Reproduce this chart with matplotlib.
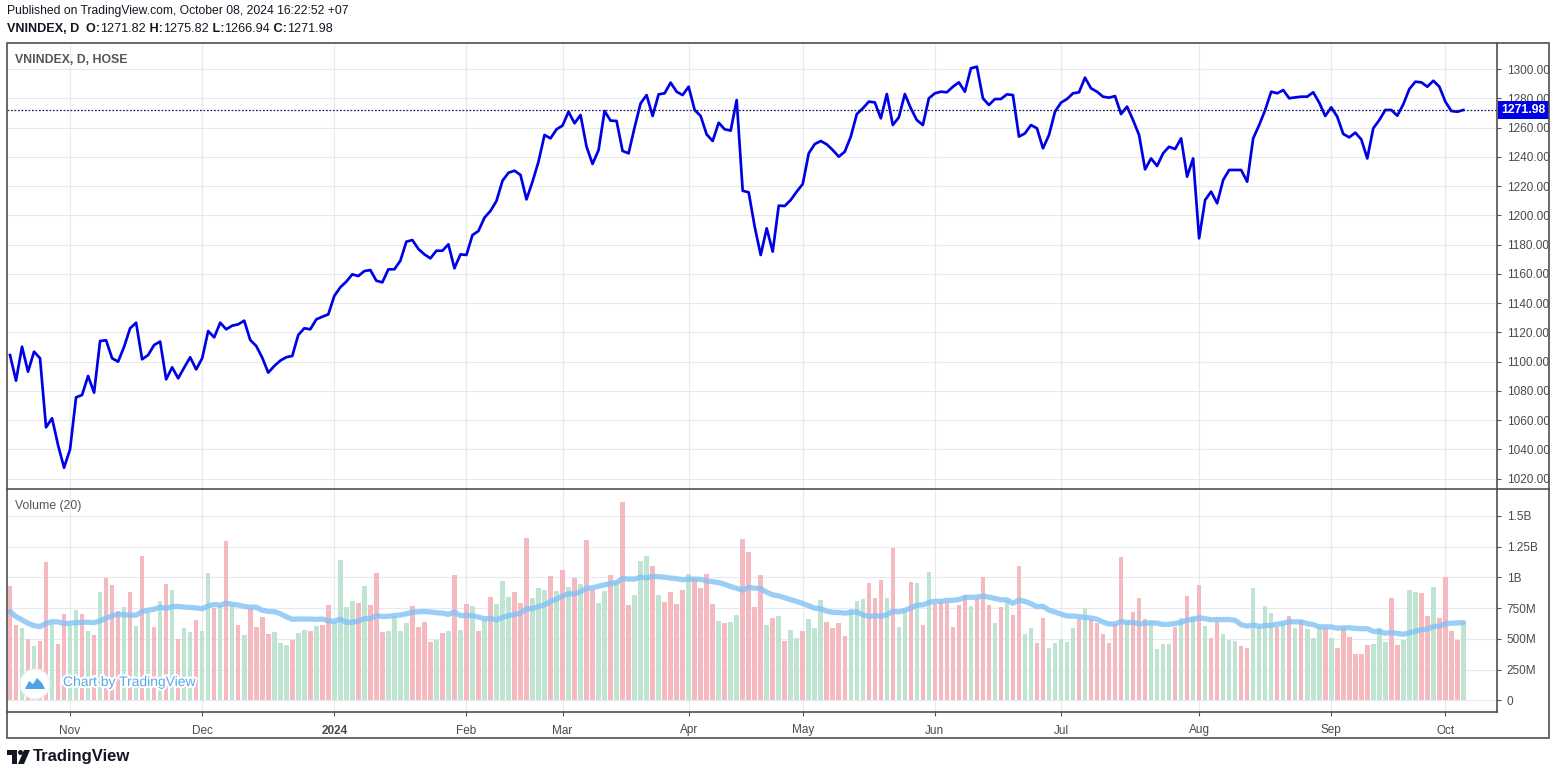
import numpy as np
import pandas as pd
import matplotlib
matplotlib.use("Agg")
import matplotlib.pyplot as plt
from matplotlib.patches import Rectangle, Circle, Polygon
from matplotlib.lines import Line2D
import matplotlib.transforms as mtrans
import matplotlib.patheffects as pe

plt.rcParams['font.family'] = ['Liberation Sans', 'DejaVu Sans']

# ---------------- data ----------------
close = [
    1104.5, 1087.0, 1110.2, 1093.1, 1106.8, 1102.3, 1055.1, 1061.3, 1043.0, 1027.5,
    1040.1, 1075.6, 1077.2, 1090.2, 1078.8, 1114.1, 1114.6, 1102.3, 1100.0, 1110.2,
    1122.8, 1126.6, 1101.6, 1104.5, 1111.4, 1113.7, 1087.9, 1096.1, 1088.6, 1095.9,
    1103.0, 1094.7, 1102.3, 1120.9, 1116.6, 1126.6, 1122.1, 1124.6, 1125.5, 1128.0,
    1114.8, 1110.7, 1102.7, 1092.5, 1097.0, 1100.7, 1103.0, 1103.9, 1118.2, 1122.8,
    1122.1, 1128.9, 1130.7, 1132.3, 1144.9, 1150.8, 1154.7, 1159.7, 1158.5, 1161.9,
    1162.6, 1155.3, 1154.2, 1163.1, 1163.1, 1169.0, 1182.0, 1183.1, 1177.0, 1173.3,
    1170.6, 1175.8, 1175.8, 1180.2, 1163.8, 1173.3, 1172.9, 1186.5, 1189.3, 1198.4,
    1203.0, 1209.8, 1223.6, 1229.1, 1230.5, 1227.6, 1210.9, 1223.0, 1236.7, 1254.9,
    1252.6, 1258.8, 1261.3, 1270.8, 1262.9, 1268.6, 1246.9, 1235.1, 1244.6, 1271.3,
    1264.7, 1264.5, 1244.0, 1242.4, 1260.1, 1276.5, 1282.2, 1267.9, 1282.7, 1283.4,
    1290.7, 1284.5, 1282.2, 1287.9, 1272.0, 1267.9, 1255.3, 1250.8, 1263.3, 1258.8,
    1257.9, 1278.8, 1216.8, 1215.7, 1192.2, 1172.9, 1191.1, 1175.2, 1206.6, 1206.4,
    1210.5, 1216.2, 1221.4, 1242.4, 1248.7, 1250.8, 1248.5, 1244.6, 1240.1, 1243.5,
    1253.8, 1269.2, 1273.1, 1277.7, 1277.2, 1266.3, 1282.9, 1261.7, 1267.0, 1282.9,
    1273.1, 1265.1, 1261.7, 1280.0, 1283.4, 1284.5, 1284.1, 1287.9, 1290.9, 1284.5,
    1300.5, 1301.6, 1280.0, 1275.4, 1279.5, 1279.5, 1282.7, 1282.2, 1253.8, 1256.0,
    1261.7, 1259.5, 1245.8, 1254.9, 1270.8, 1277.0, 1279.5, 1283.4, 1284.1, 1294.1,
    1286.8, 1284.5, 1281.1, 1280.4, 1281.5, 1269.2, 1274.3, 1265.1, 1254.9, 1231.4,
    1238.9, 1233.7, 1242.4, 1246.9, 1245.3, 1252.6, 1226.4, 1238.9, 1184.3, 1210.5,
    1216.2, 1208.2, 1224.1, 1231.0, 1231.0, 1231.0, 1223.0, 1252.6, 1261.7, 1272.0,
    1284.5, 1283.4, 1285.6, 1280.0, 1280.6, 1281.1, 1281.1, 1284.1, 1277.0, 1267.9,
    1273.8, 1267.4, 1255.6, 1253.3, 1256.5, 1251.9, 1238.9, 1259.5, 1265.1, 1272.0,
    1272.0, 1268.1, 1275.9, 1286.3, 1291.3, 1290.9, 1287.9, 1292.0, 1287.9, 1277.7,
    1271.3, 1270.8, 1271.98,
]

volume_m = [
    934, 613, 589, 502, 442, 483, 1126, 620, 459, 703, 608, 735, 703, 565, 532, 882, 996, 939, 727, 757,
    882, 605, 1175, 722, 597, 809, 947, 898, 502, 586, 559, 654, 565, 1037, 752, 776, 1297, 776, 613, 532,
    754, 597, 678, 540, 559, 467, 450, 491, 548, 573, 565, 605, 613, 776, 640, 1143, 760, 809, 792, 934,
    776, 1037, 559, 565, 687, 565, 630, 768, 597, 638, 475, 491, 548, 565, 1020, 573, 784, 768, 565, 654,
    841, 784, 972, 841, 882, 792, 1322, 833, 915, 898, 1012, 890, 1061, 923, 996, 947, 1305, 898, 792, 890,
    1020, 972, 1615, 776, 858, 1134, 1175, 1094, 858, 801, 882, 784, 898, 1029, 988, 915, 1029, 784, 646, 630,
    638, 695, 1314, 1208, 760, 1020, 613, 670, 687, 483, 573, 508, 565, 662, 589, 817, 638, 589, 630, 524,
    744, 809, 825, 955, 833, 980, 833, 1240, 597, 735, 963, 955, 613, 1045, 784, 809, 792, 597, 776, 858,
    768, 825, 1004, 776, 630, 760, 809, 695, 1094, 540, 589, 467, 670, 426, 467, 499, 475, 589, 662, 752,
    662, 630, 540, 467, 622, 1167, 646, 719, 833, 662, 646, 418, 459, 459, 597, 670, 849, 687, 939, 605,
    508, 638, 540, 491, 483, 442, 426, 915, 597, 768, 711, 597, 630, 687, 589, 654, 581, 508, 589, 589,
    508, 426, 597, 516, 377, 377, 450, 459, 589, 475, 833, 450, 491, 898, 882, 874, 687, 923, 670, 1004,
    565, 491, 638,
]

vol_dir = (
    "rrgrgrrgrrggrgrgrrrg"
    "rgrgrgrgrggrggrgrgrg"
    "rrrrgggrggrgrrggggrg"
    "rrrggggrrrrgrgrgrgrg"
    "rgggrrrgggrgrgrgrrgg"
    "rgrrgggrgrrrrgrrrrgr"
    "ggrrrrgrgrggrgggrrrr"
    "gggrrrgrggrgrgrrrrrr"
    "grrrgrgrrggrrgggggrg"
    "rrrrrrgrrrggggrgrgrg"
    "rrgggrrggggrgrgrgggr"
    "grrrrrrgggrrgggrrgrrrrg"
)

# 20-period volume MA: first 19 values (history before the window)
vol_ma_head = [722, 681, 654, 627, 608, 600, 627, 640, 638, 624,
               627, 632, 635, 635, 632, 646, 668, 687, 700]

month_labels = ["Nov", "Dec", "2024", "Feb", "Mar", "Apr", "May", "Jun", "Jul", "Aug", "Sep", "Oct"]
month_idx = [10, 32, 54, 76, 92, 113, 132, 154, 175, 198, 220, 239]

price_ticks = list(range(1020, 1301, 20))
vol_ticks = [0, 250, 500, 750, 1000, 1250, 1500]
vol_tick_labels = ["0", "250M", "500M", "750M", "1B", "1.25B", "1.5B"]

last_close = 1271.98
header_top = "Published on TradingView.com, October 08, 2024 16:22:52 +07"
header_parts = [("VNINDEX, D", "bold"), ("  O:", "bold"), ("1271.82", "normal"),
                (" H:", "bold"), ("1275.82", "normal"), (" L:", "bold"),
                ("1266.94", "normal"), (" C:", "bold"), ("1271.98", "normal")]

# ---------------- figure ----------------
W, H = 1554, 775
fig = plt.figure(figsize=(W / 100, H / 100), dpi=100)
fig.patch.set_facecolor("white")


def fx(x):
    return x / W


def fy(y):
    return 1 - y / H


GRID = "#E6E9EF"
TXT = "#4a4a4a"
x = np.arange(len(close))
xlim = (-0.5, 247.6)

# price pane
ax_p = fig.add_axes([fx(7), fy(489), 1490 / W, 445 / H])
ax_p.plot(x, close, color="#0000E6", lw=1.95, solid_joinstyle="round", zorder=3)
ax_p.set_xlim(*xlim)
ax_p.set_ylim(1012.95, 1317.1)
ax_p.set_yticks(price_ticks)
ax_p.set_yticklabels([f"{v:.2f}" for v in price_ticks])
ax_p.yaxis.tick_right()
ax_p.set_xticks(month_idx)
ax_p.tick_params(axis="x", length=0, labelbottom=False)
ax_p.tick_params(axis="y", length=3, width=0.8, color="#555555", pad=4,
                 labelsize=8.5, labelcolor=TXT)
ax_p.grid(True, color=GRID, lw=0.8, zorder=0)
ax_p.set_axisbelow(True)
for s in ax_p.spines.values():
    s.set_visible(False)
ax_p.axhline(last_close, color="#1b1b5e", lw=0.9, ls=(0, (1.4, 1.4)), zorder=4)
tr = mtrans.blended_transform_factory(ax_p.transAxes, ax_p.transData)
ax_p.text(1.0 + 4 / 1490, last_close, "1271.98", transform=tr, ha="left", va="center",
          color="white", fontweight="bold", fontsize=8.8, clip_on=False, zorder=10,
          bbox=dict(boxstyle="square,pad=0.28", fc="#0000E6", ec="none"))
ax_p.text(8 / 1490, 1 - (60 - 44) / 445, "VNINDEX, D, HOSE", transform=ax_p.transAxes,
          ha="left", va="center", fontsize=8.8, fontweight="bold", color="#555555")

# volume pane
ax_v = fig.add_axes([fx(7), fy(712), 1490 / W, 223 / H])
colors = ["#BFE4D2" if c == "g" else "#F5BAC0" for c in vol_dir]
ax_v.bar(x, volume_m, width=0.76, color=colors, linewidth=0, zorder=2)
vol_series = pd.Series(volume_m, dtype=float)
ma = vol_series.rolling(20).mean().to_numpy()
ma[:19] = vol_ma_head
ax_v.plot(x, ma, color="#7FC1F6", lw=3.8, alpha=0.78, solid_capstyle="round", zorder=3)
ax_v.set_xlim(*xlim)
ax_v.set_ylim(-95, 1719)
ax_v.set_yticks(vol_ticks)
ax_v.set_yticklabels(vol_tick_labels)
ax_v.yaxis.tick_right()
ax_v.set_xticks(month_idx)
ax_v.set_xticklabels(month_labels)
for lbl in ax_v.get_xticklabels():
    if lbl.get_text() == "2024":
        lbl.set_fontweight("bold")
ax_v.tick_params(axis="x", length=3, width=0.8, color="#555555", pad=6,
                 labelsize=8.5, labelcolor=TXT)
ax_v.tick_params(axis="y", length=3, width=0.8, color="#555555", pad=4,
                 labelsize=8.5, labelcolor=TXT)
ax_v.grid(True, color=GRID, lw=0.8, zorder=0)
ax_v.set_axisbelow(True)
for s in ax_v.spines.values():
    s.set_visible(False)
ax_v.text(8 / 1490, 1 - (506 - 489) / 223, "Volume (20)", transform=ax_v.transAxes,
          ha="left", va="center", fontsize=8.8, color="#555555")

# frame lines
FR = "#4f4f4f"
fig.add_artist(Rectangle((fx(7), fy(738)), (1549 - 7) / W, (738 - 43) / H, fill=False,
                         ec=FR, lw=1.2, transform=fig.transFigure))
fig.add_artist(Line2D([fx(7), fx(1549)], [fy(489), fy(489)], color=FR, lw=1.2, transform=fig.transFigure))
fig.add_artist(Line2D([fx(7), fx(1497)], [fy(712), fy(712)], color=FR, lw=1.2, transform=fig.transFigure))
fig.add_artist(Line2D([fx(1497), fx(1497)], [fy(43), fy(712)], color=FR, lw=1.2, transform=fig.transFigure))

# header
fig.text(fx(7), fy(11), header_top, ha="left", va="center", fontsize=8.75, color="#131722")
renderer = fig.canvas.get_renderer()
cx = 7
for txt, wt in header_parts:
    t = fig.text(fx(cx), fy(29), txt, ha="left", va="center", fontsize=9.1,
                 fontweight=wt, color="#131722")
    bb = t.get_window_extent(renderer=renderer)
    cx += bb.width

# watermark
px = fig.dpi_scale_trans
fig.add_artist(Circle((35 / 100, (H - 684) / 100), 0.15, transform=px, fc="white",
                      ec="#e8eef5", lw=1.0, zorder=20))
cloud = [(25, 689), (29, 681), (33, 684), (37, 678), (42, 683), (45, 689)]
fig.add_artist(Polygon([(a / 100, (H - b) / 100) for a, b in cloud], closed=True,
                       transform=px, fc="#4FA3E8", ec="none", zorder=21))
fig.text(fx(63), fy(682), "Chart by TradingView", ha="left", va="center", fontsize=10,
         color="#58A8E8", zorder=21,
         path_effects=[pe.withStroke(linewidth=3, foreground="white")])

# bottom logo
logo_t = [(7, 750), (17, 750), (17, 764), (12, 764), (12, 755), (7, 755)]
logo_s = [(24, 750), (30, 750), (24, 764), (18, 764)]
for poly in (logo_t, logo_s):
    fig.add_artist(Polygon([(a / 100, (H - b) / 100) for a, b in poly], closed=True,
                           transform=px, fc="#131722", ec="none"))
fig.add_artist(Circle((20.5 / 100, (H - 752.5) / 100), 0.025, transform=px, fc="#131722", ec="none"))
fig.text(fx(33), fy(757), "TradingView", ha="left", va="center", fontsize=12,
         fontweight="bold", color="#131722")

fig.savefig("out.png", dpi=100)
